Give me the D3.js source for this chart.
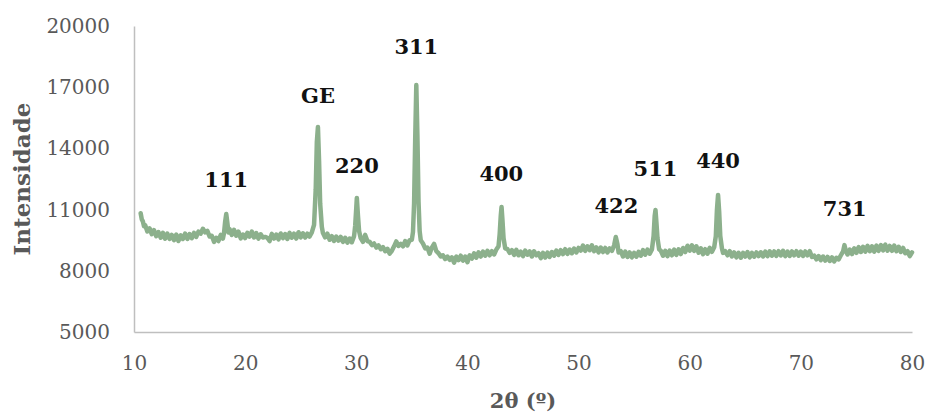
<!DOCTYPE html>
<html>
<head>
<meta charset="utf-8">
<script src="https://cdn.jsdelivr.net/npm/d3@7"></script>
<style>
  html, body { margin: 0; padding: 0; background: #fff; }
  svg { display: block; }
  text { font-family: "DejaVu Serif", "Liberation Serif", serif; }
</style>
</head>
<body>
<svg id="chart" width="927" height="414"></svg>
<script>
// Diffractogram: [2θ (degrees), intensity (counts)]
const pattern = [
  [10.6,10820],[10.7,10520],[10.8,10420],[10.9,10180],[11.0,10240],[11.2,9930],[11.4,10080],[11.6,9800],[11.8,9990],
  [12.0,9700],[12.2,9900],[12.4,9620],[12.6,9860],[12.8,9580],[13.0,9820],[13.2,9560],[13.4,9760],[13.6,9500],[13.8,9780],
  [14.0,9460],[14.2,9740],[14.4,9560],[14.6,9820],[14.8,9560],[15.0,9800],[15.2,9600],[15.4,9860],[15.6,9660],[15.8,9920],
  [16.0,9820],[16.2,10060],[16.4,9880],[16.6,9960],[16.8,9680],[17.0,9720],[17.2,9420],[17.4,9620],[17.6,9460],[17.8,9760],
  [18.0,9580],[18.1,9850],[18.2,10400],[18.3,10780],[18.4,10350],[18.5,9880],[18.6,10040],[18.8,9760],
  [19.0,10010],[19.2,9720],[19.4,9920],[19.6,9590],[19.8,9780],
  [20.0,9600],[20.2,9860],[20.4,9680],[20.6,9920],[20.8,9640],[21.0,9850],[21.2,9580],[21.4,9790],[21.6,9630],[21.8,9660],
  [22.0,9620],[22.2,9460],[22.4,9810],[22.6,9580],[22.8,9780],[23.0,9540],[23.2,9830],[23.4,9600],[23.6,9800],[23.8,9560],
  [24.0,9860],[24.2,9620],[24.4,9820],[24.6,9580],[24.8,9890],[25.0,9640],[25.2,9840],[25.4,9630],[25.6,9820],[25.8,9680],
  [26.0,9880],[26.2,10250],[26.35,12000],[26.45,14300],[26.55,15050],[26.65,13400],[26.75,11300],[26.9,10150],
  [27.0,9850],[27.2,9640],[27.4,9820],[27.6,9520],[27.8,9700],[28.0,9460],[28.2,9680],[28.4,9480],[28.6,9660],[28.8,9420],
  [29.0,9620],[29.2,9380],[29.4,9580],[29.6,9400],[29.8,9700],[29.9,10200],[30.0,11100],[30.05,11570],[30.15,10700],[30.25,9950],
  [30.4,9600],[30.6,9420],[30.8,9760],[31.0,9460],[31.2,9420],[31.4,9260],[31.6,9340],[31.8,9140],[32.0,9250],
  [32.2,9060],[32.4,9160],[32.6,8960],[32.8,9080],[33.0,8840],[33.2,8980],[33.4,9200],[33.6,9440],[33.8,9220],
  [34.0,9320],[34.2,9200],[34.4,9460],[34.6,9240],[34.8,9500],[35.0,9520],[35.1,9900],[35.2,11300],[35.3,14400],[35.4,17110],
  [35.5,14600],[35.6,11400],[35.7,9950],[35.8,9500],[36.0,9340],[36.2,9100],[36.4,9140],[36.6,8840],[36.8,9140],
  [37.0,9320],[37.2,8960],[37.4,8860],[37.6,8700],[37.8,8760],[38.0,8580],[38.2,8700],[38.4,8540],[38.6,8660],[38.8,8400],
  [39.0,8700],[39.2,8520],[39.4,8740],[39.6,8500],[39.8,8700],[40.0,8420],[40.2,8760],[40.4,8600],[40.6,8860],[40.8,8640],
  [41.0,8900],[41.2,8700],[41.4,8940],[41.6,8740],[41.8,8980],[42.0,8760],[42.2,8960],[42.4,8800],[42.6,9040],[42.8,9200],
  [42.9,9800],[43.0,10700],[43.07,11130],[43.15,10500],[43.25,9600],[43.4,9100],[43.6,9060],[43.8,8880],
  [44.0,9010],[44.2,8780],[44.4,9030],[44.6,8760],[44.8,8940],[45.0,8720],[45.2,8990],[45.4,8790],[45.6,8950],[45.8,8700],
  [46.0,8960],[46.2,8760],[46.4,8860],[46.6,8620],[46.8,8880],[47.0,8650],[47.2,8890],[47.4,8680],[47.6,8920],[47.8,8740],
  [48.0,8990],[48.2,8780],[48.4,9010],[48.6,8820],[48.8,9060],[49.0,8830],[49.2,9040],[49.4,8860],[49.6,9090],[49.8,8900],
  [50.0,9120],[50.2,8990],[50.4,9240],[50.6,8980],[50.8,9200],[51.0,9010],[51.2,9250],[51.4,8960],[51.6,9150],[51.8,8900],
  [52.0,9140],[52.2,8920],[52.4,9120],[52.6,8900],[52.8,9100],[53.0,8980],[53.2,9250],[53.35,9660],[53.5,9300],[53.6,8900],[53.8,8960],
  [54.0,8700],[54.2,8940],[54.4,8680],[54.6,8900],[54.8,8660],[55.0,8880],[55.2,8690],[55.4,8930],[55.6,8740],[55.8,9010],
  [56.0,8790],[56.2,9040],[56.4,8840],[56.6,9050],[56.75,9700],[56.85,10700],[56.92,10980],[57.0,10400],[57.1,9600],[57.25,9050],
  [57.4,8980],[57.6,8740],[57.8,8980],[58.0,8720],[58.2,8990],[58.4,8760],[58.6,9040],[58.8,8780],
  [59.0,9050],[59.2,8820],[59.4,9120],[59.6,8920],[59.8,9230],[60.0,8990],[60.2,9250],[60.4,8980],[60.6,9200],[60.8,8890],
  [61.0,9100],[61.2,8820],[61.4,9060],[61.6,8840],[61.8,9130],[62.0,8930],[62.2,9150],[62.35,9700],[62.45,11000],[62.55,11720],
  [62.65,10900],[62.75,9700],[62.9,9100],[63.0,8880],[63.2,8960],[63.4,8760],[63.6,8960],[63.8,8700],
  [64.0,8900],[64.2,8660],[64.4,8880],[64.6,8640],[64.8,8880],[65.0,8700],[65.2,8920],[65.4,8660],[65.6,8880],[65.8,8690],
  [66.0,8900],[66.2,8720],[66.4,8910],[66.6,8700],[66.8,8940],[67.0,8720],[67.2,8960],[67.4,8740],[67.6,8950],[67.8,8730],
  [68.0,8960],[68.2,8750],[68.4,8980],[68.6,8720],[68.8,8940],[69.0,8730],[69.2,8950],[69.4,8760],[69.6,8960],[69.8,8740],
  [70.0,8940],[70.2,8730],[70.4,8950],[70.6,8760],[70.8,8960],[71.0,8680],[71.2,8740],[71.4,8560],[71.6,8720],[71.8,8520],
  [72.0,8700],[72.2,8500],[72.4,8680],[72.6,8480],[72.8,8660],[73.0,8460],[73.2,8640],[73.4,8560],[73.6,8760],[73.8,8950],
  [73.92,9260],[74.05,8980],[74.2,8800],[74.4,9040],[74.6,8820],[74.8,9100],
  [75.0,8880],[75.2,9160],[75.4,8920],[75.6,9180],[75.8,8940],[76.0,9220],[76.2,8960],[76.4,9200],[76.6,8940],[76.8,9240],
  [77.0,8980],[77.2,9260],[77.4,9000],[77.6,9280],[77.8,8990],[78.0,9220],[78.2,8980],[78.4,9240],[78.6,8960],[78.8,9180],
  [79.0,8920],[79.2,9120],[79.4,8860],[79.6,8960],[79.8,8720],[80.0,8900]
];

// Reflection labels: text, 2θ of the reflection, intensity at the label baseline
const peakLabels = ["111", "GE", "220", "311", "400", "422", "511", "440", "731"];
const peakPositions = [18.3, 26.55, 30.05, 35.4, 43.05, 53.4, 56.92, 62.55, 73.95];
const labelLevels = [12100, 16250, 12800, 18650, 12400, 10850, 12650, 13050, 10700];

const xTicks = [10, 20, 30, 40, 50, 60, 70, 80];
const yTicks = [5000, 8000, 11000, 14000, 17000, 20000];

const svg = d3.select("#chart");
const margin = { left: 134, right: 15, top: 26, bottom: 82 };
const W = 927, H = 414;

const x = d3.scaleLinear().domain([10, 80]).range([margin.left, W - margin.right]);
const y = d3.scaleLinear().domain([5000, 20000]).range([H - margin.bottom, margin.top]);

const axisColor = "#bfbfbf";
const textColor = "#595959";

// Y axis
const yAxis = svg.append("g")
  .attr("transform", `translate(${margin.left},0)`)
  .call(d3.axisLeft(y).tickValues(yTicks).tickSize(0).tickPadding(24).tickFormat(d3.format("d")));
yAxis.select(".domain").attr("stroke", axisColor).attr("stroke-width", 1.5);
yAxis.selectAll("text").attr("fill", textColor).style("font-size", "20px")
  .style("font-family", "'DejaVu Serif', serif");

// X axis
const xAxis = svg.append("g")
  .attr("transform", `translate(0,${H - margin.bottom})`)
  .call(d3.axisBottom(x).tickValues(xTicks).tickSize(0).tickPadding(24).tickFormat(d3.format("d")));
xAxis.select(".domain").attr("stroke", axisColor).attr("stroke-width", 1.5);
xAxis.selectAll("text").attr("fill", textColor).style("font-size", "20px")
  .style("font-family", "'DejaVu Serif', serif");

// Axis titles
svg.append("text")
  .attr("x", (margin.left + W - margin.right) / 2)
  .attr("y", 408)
  .attr("text-anchor", "middle")
  .attr("fill", textColor)
  .style("font-size", "21px")
  .style("font-weight", "bold")
  .text("2θ (º)");

svg.append("text")
  .attr("transform", `translate(30,${(margin.top + H - margin.bottom) / 2}) rotate(-90)`)
  .attr("text-anchor", "middle")
  .attr("fill", textColor)
  .style("font-size", "23px")
  .style("font-weight", "bold")
  .text("Intensidade");

// Diffraction trace
const line = d3.line().x(d => x(d[0])).y(d => y(d[1]));
svg.append("path")
  .datum(pattern)
  .attr("d", line)
  .attr("fill", "none")
  .attr("stroke", "#8cb08c")
  .attr("stroke-width", 4.5)
  .attr("stroke-linejoin", "round")
  .attr("stroke-linecap", "round");

// Reflection labels
svg.append("g").selectAll("text")
  .data(peakLabels)
  .join("text")
  .attr("x", (d, i) => x(peakPositions[i]))
  .attr("y", (d, i) => y(labelLevels[i]))
  .attr("text-anchor", "middle")
  .attr("fill", "#111")
  .style("font-size", "21px")
  .style("font-weight", "bold")
  .text(d => d);
</script>
</body>
</html>
